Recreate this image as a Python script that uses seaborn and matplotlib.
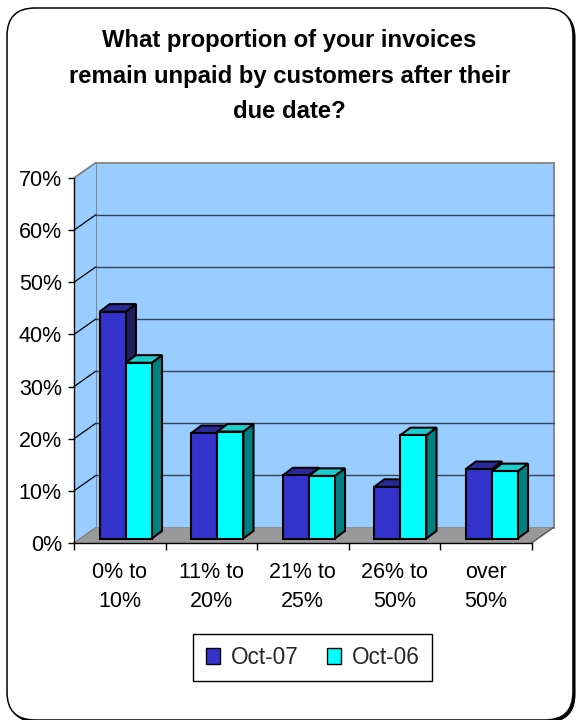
import numpy as np
import pandas as pd
import matplotlib
matplotlib.use("Agg")
import matplotlib.pyplot as plt
import matplotlib.transforms as mtransforms
from matplotlib.patches import Polygon, FancyBboxPatch, Patch, Rectangle
import seaborn as sns

# ---- data -------------------------------------------------------------
categories = ["0% to\n10%", "11% to\n20%", "21% to\n25%", "26% to\n50%", "over\n50%"]
series = ["Oct-07", "Oct-06"]
oct07 = [43.5, 20.2, 12.1, 9.9, 13.3]
oct06 = [33.7, 20.5, 12.0, 19.8, 12.9]
y_ticks = [0, 10, 20, 30, 40, 50, 60, 70]
y_tick_labels = ["0%", "10%", "20%", "30%", "40%", "50%", "60%", "70%"]
title = "What proportion of your invoices\nremain unpaid by customers after their\ndue date?"

df = pd.DataFrame({
    "category": categories * 2,
    "series": [series[0]] * len(categories) + [series[1]] * len(categories),
    "value": oct07 + oct06,
})

# ---- style ------------------------------------------------------------
sns.set_theme(style="ticks")
plt.rcParams["font.family"] = ["Liberation Sans", "DejaVu Sans"]

front_colors = ["#3333CC", "#00FFFF"]
top_colors = ["#2A2A99", "#1FCCCC"]
side_colors = ["#1F1F5F", "#008080"]
wall_color = "#99CCFF"
floor_color = "#999999"
frame_grey = "#808080"

W, H, DPI = 576, 720, 100
fig = plt.figure(figsize=(W / DPI, H / DPI), dpi=DPI)
fig.patch.set_facecolor("white")

# pixel coordinates measured from the top-left corner of the figure
img = mtransforms.Affine2D().scale(1 / W, -1 / H).translate(0, 1) + fig.transFigure

# rounded outer frame with a small drop shadow
shadow = FancyBboxPatch((9, 10), 566, 712, boxstyle="round,pad=0,rounding_size=28",
                        transform=img, facecolor="black", edgecolor="black", lw=0.8, zorder=0)
frame = FancyBboxPatch((7, 8), 566, 712, boxstyle="round,pad=0,rounding_size=28",
                       transform=img, facecolor="white", edgecolor="black", lw=1.1, zorder=0.1)
fig.add_artist(shadow)
fig.add_artist(frame)

# ---- plot area --------------------------------------------------------
ax_left, ax_right, ax_top, ax_bottom = 74, 531.5, 178, 543
ax = fig.add_axes([ax_left / W, 1 - ax_bottom / H, (ax_right - ax_left) / W, (ax_bottom - ax_top) / H])
ax.set_facecolor("none")
ax.set_zorder(1)

xmin, xmax, ymin, ymax = -0.5, len(categories) - 0.5, 0, 70
px_x = (ax_right - ax_left) / (xmax - xmin)
px_y = (ax_bottom - ax_top) / (ymax - ymin)


def depth(dx_px, dy_px):
    """Convert a pixel offset (right, up) into data units."""
    return dx_px / px_x, dy_px / px_y


DX, DY = depth(22, 15.5)        # full depth of the box
OX, OY = depth(6, 4.5)          # where the bar fronts sit inside the box
BX, BY = depth(10.2, 7.6)       # thickness of each bar

sns.barplot(data=df, x="category", y="value", hue="series", hue_order=series,
            palette=front_colors, saturation=1, width=0.57, edgecolor="black",
            linewidth=1.5, legend=False, ax=ax)
bars = sorted([p for p in ax.patches if isinstance(p, Rectangle) and p.get_height() > 0],
              key=lambda p: p.get_x())

# back wall, side wall and floor
ax.add_patch(Polygon([(xmin + DX, ymin + DY), (xmax + DX, ymin + DY), (xmax + DX, ymax + DY),
                      (xmin + DX, ymax + DY)], closed=True, facecolor=wall_color,
                     edgecolor=frame_grey, lw=1.3, zorder=0.5, clip_on=False))
ax.add_patch(Polygon([(xmin, ymin), (xmin, ymax), (xmin + DX, ymax + DY), (xmin + DX, ymin + DY)],
                     closed=True, facecolor=wall_color, edgecolor="none", zorder=0.6, clip_on=False))
ax.plot([xmin, xmin + DX], [ymax, ymax + DY], color=frame_grey, lw=1.3, zorder=0.7, clip_on=False)
ax.add_patch(Polygon([(xmin, ymin), (xmax, ymin), (xmax + DX, ymin + DY), (xmin + DX, ymin + DY)],
                     closed=True, facecolor=floor_color, edgecolor="none", zorder=0.8, clip_on=False))
ax.plot([xmax, xmax + DX], [ymin, ymin + DY], color="#555555", lw=1, zorder=0.85, clip_on=False)
ax.plot([xmin, xmin + DX], [ymin, ymin + DY], color=frame_grey, lw=1, zorder=0.85, clip_on=False)

# gridlines across the back wall and down the side wall
for v in y_ticks[1:-1]:
    ax.plot([xmin + DX, xmax + DX], [v + DY, v + DY], color="#34475A", lw=1, zorder=0.9, clip_on=False)
    ax.plot([xmin, xmin + DX], [v, v + DY], color="black", lw=0.9, zorder=0.9, clip_on=False)

# turn the flat bars into prisms
ref07 = np.array(matplotlib.colors.to_rgb(front_colors[0]))
for i, bar in enumerate(bars):
    k = 0 if np.allclose(bar.get_facecolor()[:3], ref07, atol=0.02) else 1
    x0 = bar.get_x() + OX
    x1 = x0 + bar.get_width()
    y0 = OY
    y1 = OY + bar.get_height()
    z = 3 + i * 0.1
    bar.set_x(x0)
    bar.set_y(y0)
    bar.set_zorder(z + 0.05)
    bar.set_joinstyle("miter")
    ax.add_patch(Polygon([(x1, y0), (x1, y1), (x1 + BX, y1 + BY), (x1 + BX, y0 + BY)], closed=True,
                         facecolor=side_colors[k], edgecolor="black", lw=1.5, joinstyle="miter",
                         zorder=z, clip_on=False))
    ax.add_patch(Polygon([(x0, y1), (x1, y1), (x1 + BX, y1 + BY), (x0 + BX, y1 + BY)], closed=True,
                         facecolor=top_colors[k], edgecolor="black", lw=1.5, joinstyle="miter",
                         zorder=z, clip_on=False))

ax.set_xlim(xmin, xmax)
ax.set_ylim(ymin, ymax)

# axes lines and ticks
for side in ["top", "right"]:
    ax.spines[side].set_visible(False)
for side in ["left", "bottom"]:
    ax.spines[side].set_color("black")
    ax.spines[side].set_linewidth(1.0)
    ax.spines[side].set_zorder(2)

ax.set_yticks(y_ticks, labels=y_tick_labels)
ax.set_xticks(range(len(categories)), labels=categories)
ax.set_xticks(np.arange(xmin, xmax + 0.01, 1), minor=True)
ax.tick_params(axis="y", which="major", left=True, length=4.5, width=1, pad=4.3,
               labelsize=15.5, colors="black")
ax.tick_params(axis="x", which="major", bottom=True, length=0, pad=14, labelsize=15.5, colors="black")
ax.tick_params(axis="x", which="minor", bottom=True, length=5, width=1, colors="black")
for lab in ax.get_xticklabels():
    lab.set_linespacing(1.45)
ax.set_xlabel("")
ax.set_ylabel("")

# title
fig.text(289.5 / W, 1 - 76 / H, title, ha="center", va="center", fontsize=17.2,
         fontweight="bold", linespacing=1.68, color="black")

# legend
handles = [Patch(facecolor=c, edgecolor="black", lw=1) for c in front_colors]
leg = fig.legend(handles, series, loc="center", bbox_to_anchor=(312.5 / W, 1 - 657.5 / H),
                 ncol=2, frameon=True, fancybox=False, framealpha=1, edgecolor="black",
                 fontsize=16.3, handlelength=0.65, handleheight=0.65, handletextpad=0.45,
                 columnspacing=1.25, borderpad=0.55, borderaxespad=0)
leg.get_frame().set_linewidth(1)

fig.savefig("out.png", dpi=DPI, facecolor="white")
